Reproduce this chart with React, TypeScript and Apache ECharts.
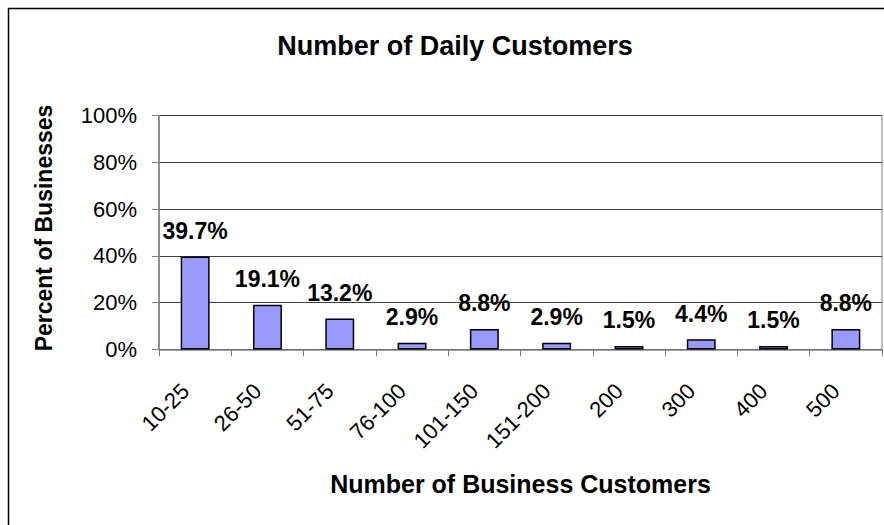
import React, { useEffect, useRef } from "react";
import * as echarts from "echarts";

const categories = ["10-25", "26-50", "51-75", "76-100", "101-150", "151-200", "200", "300", "400", "500"];
const percentValues = [39.7, 19.1, 13.2, 2.9, 8.8, 2.9, 1.5, 4.4, 1.5, 8.8];
const yTicks = [0, 20, 40, 60, 80, 100];

const FONT = "'Liberation Sans', Arial, Helvetica, sans-serif";

export default function App() {
  const ref = useRef<HTMLDivElement>(null);
  useEffect(() => {
    if (!ref.current) return;
    const chart = echarts.init(ref.current, null, { renderer: "svg" });
    chart.setOption({
      animation: false,
      backgroundColor: "#ffffff",
      textStyle: { fontFamily: FONT, color: "#000" },
      title: {
        text: "Number of Daily Customers",
        left: 450,
        top: 27,
        textAlign: "center",
        textStyle: { fontFamily: FONT, fontSize: 27, fontWeight: "bold", color: "#000" },
      },
      graphic: [
        {
          type: "rect",
          left: 6,
          top: 6,
          shape: { x: 0, y: 0, width: 900, height: 540 },
          style: { fill: "none", stroke: "#000", lineWidth: 1.5 },
          silent: true,
          z: 100,
        },
      ],
      grid: {
        left: 159,
        right: 2,
        top: 115.5,
        bottom: 175.5,
        show: true,
        borderColor: "#808080",
        borderWidth: 1,
        backgroundColor: "transparent",
      },
      xAxis: {
        type: "category",
        data: categories,
        boundaryGap: true,
        name: "Number of Business Customers",
        nameLocation: "middle",
        nameGap: 122,
        nameTextStyle: { fontFamily: FONT, fontSize: 25, fontWeight: "bold", color: "#000" },
        axisLine: { show: true, lineStyle: { color: "#808080", width: 1.5 } },
        axisTick: { show: true, alignWithLabel: false, length: 7, lineStyle: { color: "#808080" } },
        axisLabel: {
          rotate: 45,
          margin: 28,
          interval: 0,
          padding: [0, 14, 0, 0],
          fontFamily: FONT,
          fontSize: 22,
          color: "#000",
        },
      },
      yAxis: {
        type: "value",
        min: 0,
        max: 100,
        interval: 20,
        name: "Percent of Businesses",
        nameLocation: "middle",
        nameGap: 104,
        nameTextStyle: {
          fontFamily: FONT,
          fontSize: 23,
          fontWeight: "bold",
          color: "#000",
          padding: [0, 0, 0, 9],
        },
        axisLine: { show: true, lineStyle: { color: "#808080", width: 1.5 } },
        axisTick: { show: true, length: 7, lineStyle: { color: "#808080" } },
        splitLine: { show: true, lineStyle: { color: "#404040", width: 1 } },
        axisLabel: {
          margin: 22,
          fontFamily: FONT,
          fontSize: 22,
          color: "#000",
          formatter: (v: number) => (yTicks.includes(v) ? v + "%" : ""),
        },
      },
      series: [
        {
          type: "bar",
          data: percentValues,
          barWidth: "40%",
          itemStyle: { color: "#9999FF", borderColor: "#000", borderWidth: 1.5 },
          label: {
            show: true,
            position: "top",
            distance: 14,
            fontFamily: FONT,
            fontSize: 23,
            fontWeight: "bold",
            color: "#000",
            formatter: (p: any) => p.value.toFixed(1) + "%",
          },
        },
      ],
    });
    return () => chart.dispose();
  }, []);
  return <div ref={ref} style={{ width: 884, height: 525, position: "absolute", left: 0, top: 0 }} />;
}
